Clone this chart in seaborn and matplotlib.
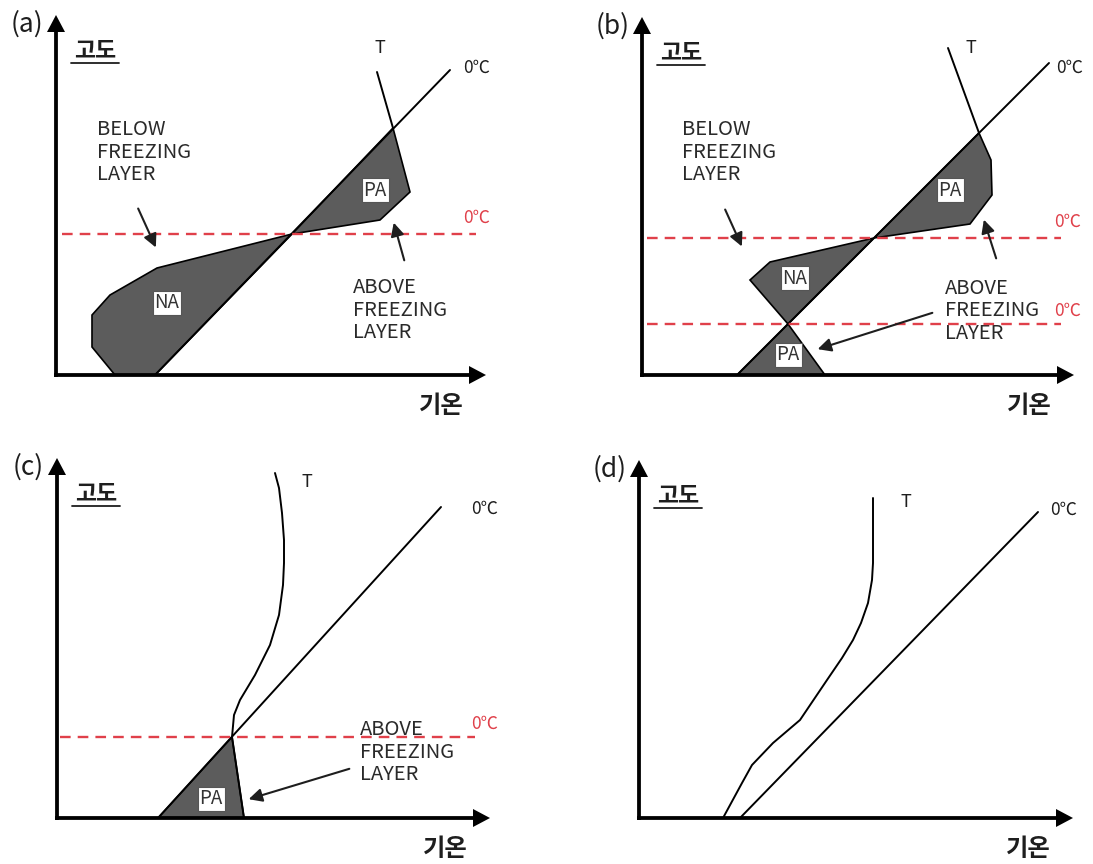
import numpy as np
import matplotlib.pyplot as plt
import seaborn as sns

sns.set_theme(style="white")
plt.rcParams['font.family'] = ['Noto Sans CJK KR', 'DejaVu Sans']

# 좌표: 각 패널의 원점(축 교차점) 기준, 단위 = 픽셀
# (a) 상층 융해층 하나
a_zero_x = [99, 394]
a_zero_y = [0, 305]
a_t_x = [321, 337]
a_t_y = [303, 247]
a_pa_x = [236, 337, 354, 324]
a_pa_y = [141, 247, 183, 155]
a_na_x = [236, 101, 54, 36, 36, 59, 99]
a_na_y = [141, 107, 80, 60, 28, 0, 0]
a_freeze = [141]

# (b) 융해층 두 개
b_zero_x = [95, 407]
b_zero_y = [0, 312]
b_t_x = [306, 337]
b_t_y = [327, 242]
b_pa_x = [232, 337, 349, 350, 328]
b_pa_y = [137, 242, 215, 180, 151]
b_na_x = [232, 128, 108, 146]
b_na_y = [137, 113, 95, 51]
b_pa2_x = [95, 146, 183]
b_pa2_y = [0, 51, 0]
b_freeze = [137, 51]

# (c) 지상 부근 융해층
c_zero_x = [101, 384]
c_zero_y = [0, 311]
c_t_x = [218, 222, 225, 227, 227, 226, 222, 213, 198, 183, 177, 175, 187]
c_t_y = [345, 330, 305, 278, 255, 233, 203, 173, 143, 118, 103, 81, 0]
c_pa_x = [101, 175, 187]
c_pa_y = [0, 81, 0]
c_freeze = [81]

# (d) 전층 영하
d_zero_x = [101, 399]
d_zero_y = [0, 306]
d_t_x = [234, 234, 233, 229, 222, 214, 203, 188, 161, 134, 113, 103, 84]
d_t_y = [320, 255, 238, 215, 195, 178, 160, 138, 98, 75, 53, 35, 0]

W, H = 1093, 864
fig = plt.figure(figsize=(W / 100, H / 100), dpi=100)
RED = '#e0404a'
GRAY = '#5c5c5c'
INK = '#1e1e1e'


def make_ax(quad, origin):
    qx0, qy0, qx1, qy1 = quad
    ox, oy = origin
    ax = fig.add_axes([qx0 / W, 1 - qy1 / H, (qx1 - qx0) / W, (qy1 - qy0) / H])
    ax.set_xlim(qx0 - ox, qx1 - ox)
    ax.set_ylim(oy - qy1, oy - qy0)
    ax.axis('off')
    return ax


def frame(ax, tag, ytip, xtip):
    ax.arrow(0, -2, 0, ytip + 2, width=3.8, head_width=18, head_length=17,
             length_includes_head=True, fc='black', ec='black', lw=0, zorder=6)
    ax.arrow(-2, 0, xtip + 2, 0, width=3.8, head_width=18, head_length=17,
             length_includes_head=True, fc='black', ec='black', lw=0, zorder=6)
    ax.text(-29, ytip - 9, tag, fontsize=19, ha='center', va='center', color=INK)
    ax.text(39, ytip - 36, "고도", fontsize=16.5, ha='center', va='center', color=INK,
            fontweight='bold')
    ax.plot([15, 63], [ytip - 48, ytip - 48], color=INK, lw=1.3)
    ax.text(xtip - 45, -31, "기온", fontsize=17.5, ha='center', va='center', color=INK,
            fontweight='bold')


def line(ax, xs, ys):
    sns.lineplot(x=xs, y=ys, sort=False, estimator=None, color='black',
                 lw=1.4, ax=ax, zorder=4)


def freeze(ax, levels, x0, x1):
    for lv in levels:
        ax.hlines(lv, x0, x1, colors=RED, lw=1.7, linestyles=(0, (4.5, 3)), zorder=5)


def box(ax, x, y, s):
    ax.text(x, y, s, fontsize=13.5, ha='center', va='center', color='#333', zorder=7,
            bbox=dict(boxstyle='square,pad=0.1', fc='white', ec='#555', lw=0.8))


def arrow(ax, start, tip):
    ax.annotate('', xy=tip, xytext=start, zorder=7,
                arrowprops=dict(arrowstyle='-|>', color=INK, lw=1.5, mutation_scale=20))


txt = dict(fontsize=14.5, color='#2a2a2a', ha='left', va='center', linespacing=1.12)
below = "BELOW\nFREEZING\nLAYER"
above = "ABOVE\nFREEZING\nLAYER"
zc = dict(fontsize=12.5, ha='center', va='center')

# (a)
ax = make_ax((0, 0, 546, 432), (56, 375))
ax.fill(a_na_x, a_na_y, fc=GRAY, ec='black', lw=1.2, zorder=2)
ax.fill(a_pa_x, a_pa_y, fc=GRAY, ec='black', lw=1.2, zorder=2)
line(ax, a_zero_x, a_zero_y)
line(ax, a_t_x, a_t_y)
freeze(ax, a_freeze, 6, 420)
frame(ax, "(a)", 360, 430)
ax.text(324, 327, "T", fontsize=13, ha='center', va='center', color=INK)
ax.text(421, 307, "0℃", color=INK, **zc)
ax.text(421, 157, "0℃", color=RED, **zc)
ax.text(41, 223, below, **txt)
ax.text(297, 65, above, **txt)
arrow(ax, (81, 169), (101, 125))
arrow(ax, (349, 112), (337, 155))
box(ax, 319, 185, "PA")
box(ax, 111, 72, "NA")

# (b)
ax = make_ax((546, 0, 1093, 432), (642, 375))
ax.fill(b_na_x, b_na_y, fc=GRAY, ec='black', lw=1.2, zorder=2)
ax.fill(b_pa_x, b_pa_y, fc=GRAY, ec='black', lw=1.2, zorder=2)
ax.fill(b_pa2_x, b_pa2_y, fc=GRAY, ec='black', lw=1.2, zorder=2)
line(ax, b_zero_x, b_zero_y)
line(ax, b_t_x, b_t_y)
freeze(ax, b_freeze, 5, 419)
frame(ax, "(b)", 358, 432)
ax.text(329, 327, "T", fontsize=13, ha='center', va='center', color=INK)
ax.text(428, 307, "0℃", color=INK, **zc)
ax.text(426, 153, "0℃", color=RED, **zc)
ax.text(426, 64, "0℃", color=RED, **zc)
ax.text(40, 223, below, **txt)
ax.text(303, 64, above, **txt)
arrow(ax, (82, 168), (101, 126))
arrow(ax, (355, 114), (341, 158))
arrow(ax, (293, 63), (173, 25))
box(ax, 308, 185, "PA")
box(ax, 153, 97, "NA")
box(ax, 146, 20, "PA")

# (c)
ax = make_ax((0, 432, 546, 864), (57, 818))
ax.fill(c_pa_x, c_pa_y, fc=GRAY, ec='black', lw=1.2, zorder=2)
line(ax, c_zero_x, c_zero_y)
line(ax, c_t_x, c_t_y)
freeze(ax, c_freeze, 3, 418)
frame(ax, "(c)", 360, 433)
ax.text(250, 336, "T", fontsize=13, ha='center', va='center', color=INK)
ax.text(428, 309, "0℃", color=INK, **zc)
ax.text(428, 94, "0℃", color=RED, **zc)
ax.text(303, 66, above, **txt)
arrow(ax, (295, 50), (189, 18))
box(ax, 154, 19, "PA")

# (d)
ax = make_ax((546, 432, 1093, 864), (639, 818))
line(ax, d_zero_x, d_zero_y)
line(ax, d_t_x, d_t_y)
frame(ax, "(d)", 358, 434)
ax.text(267, 316, "T", fontsize=13, ha='center', va='center', color=INK)
ax.text(425, 308, "0℃", color=INK, **zc)

fig.savefig("out.png", dpi=100, facecolor='white')
